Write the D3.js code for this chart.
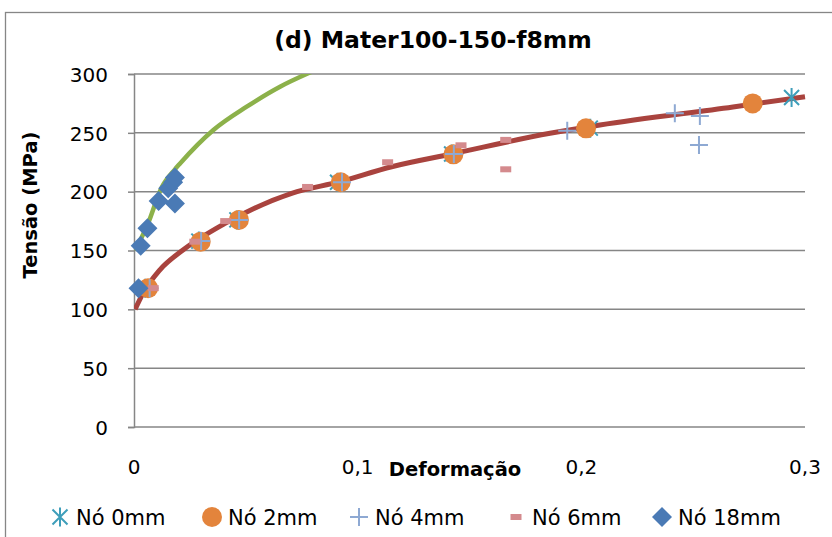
<!DOCTYPE html>
<html>
<head>
<meta charset="utf-8">
<script src="https://cdn.jsdelivr.net/npm/d3@7"></script>
<style>
  body { margin: 0; background: #fff; }
  text { font-family: "DejaVu Sans", sans-serif; fill: #000; }
</style>
</head>
<body>
<svg id="chart" width="832" height="537"></svg>
<script>
// Data
let node0X  = [0.005, 0.029, 0.046, 0.091, 0.142, 0.204, 0.294];
let node0Y  = [118, 158, 176, 208, 232, 254, 280];
let node2X  = [0.0063, 0.0298, 0.0469, 0.0924, 0.1428, 0.2021, 0.2766];
let node2Y  = [118, 157.5, 176, 208, 231.7, 253.8, 275];
let node4X  = [0.007, 0.030, 0.047, 0.093, 0.143, 0.1937, 0.2418, 0.253, 0.2526];
let node4Y  = [118, 158, 176, 208, 232, 251.8, 266.6, 264.3, 239.6];
let node6X  = [0.0086, 0.0272, 0.041, 0.0776, 0.1134, 0.1462, 0.1662, 0.1662];
let node6Y  = [118, 157.5, 175, 204, 225, 239.4, 244, 219];
let node18X = [0.002, 0.003, 0.006, 0.011, 0.0153, 0.0175, 0.0183, 0.0183];
let node18Y = [118, 154, 169, 192, 203, 208, 212, 190];

// trend lines
let redX   = [0.0005, 0.004, 0.0115, 0.0219, 0.0407, 0.0705, 0.0921, 0.1152, 0.142, 0.186, 0.2083, 0.2678, 0.3];
let redY   = [100, 113.6, 133.4, 150.4, 173, 198.6, 208.5, 221.2, 232, 249.6, 256.7, 272, 280.7];
let greenX = [0.0005, 0.0063, 0.0122, 0.0183, 0.0206, 0.0355, 0.0504, 0.0653, 0.0779, 0.082];
let greenY = [150, 173, 203, 219, 224, 252.4, 272.2, 289.2, 300.6, 304];

let xTicks = [0, 0.1, 0.2, 0.3];
let yTicks = [0, 50, 100, 150, 200, 250, 300];
let legendNames = ['Nó 0mm', 'Nó 2mm', 'Nó 4mm', 'Nó 6mm', 'Nó 18mm'];

let svg = d3.select('#chart');
let plotLeft = 134, plotRight = 805, plotTop = 74, plotBottom = 427;

let x = d3.scaleLinear().domain([0, 0.3]).range([plotLeft, plotRight]);
let y = d3.scaleLinear().domain([0, 300]).range([plotBottom, plotTop]);
let fmt = d => d === 0 ? '0' : String(d).replace('.', ',');

// outer border
svg.append('rect')
   .attr('x', 5.5).attr('y', 12.5)
   .attr('width', 860).attr('height', 560)
   .attr('fill', 'none').attr('stroke', '#868686').attr('stroke-width', 1.3);

// title
svg.append('text')
   .attr('x', 433).attr('y', 48)
   .attr('text-anchor', 'middle')
   .style('font-size', '23.5px').style('font-weight', 'bold')
   .text('(d) Mater100-150-f8mm');

// gridlines + y axis
let yAxis = d3.axisLeft(y).tickValues(yTicks).tickSize(6).tickPadding(20).tickFormat(d => d);
let gy = svg.append('g').attr('transform', `translate(${plotLeft},0)`).call(yAxis);
gy.select('.domain').attr('stroke', '#868686').attr('stroke-width', 1.5);
gy.selectAll('.tick line').attr('stroke', '#868686').attr('stroke-width', 1.5);
gy.selectAll('.tick text').style('font-size', '20px').style('font-family', '"DejaVu Sans", sans-serif').attr('dy', '0.36em');

svg.append('g').selectAll('line')
   .data(yTicks)
   .join('line')
   .attr('x1', plotLeft).attr('x2', plotRight)
   .attr('y1', d => y(d)).attr('y2', d => y(d))
   .attr('stroke', '#868686').attr('stroke-width', 1.5);

// x tick labels
svg.append('g').selectAll('text')
   .data(xTicks)
   .join('text')
   .attr('x', d => x(d)).attr('y', 474)
   .attr('text-anchor', 'middle')
   .style('font-size', '20px')
   .text(fmt);

// axis titles
svg.append('text')
   .attr('x', 455).attr('y', 476)
   .attr('text-anchor', 'middle')
   .style('font-size', '19.5px').style('font-weight', 'bold')
   .text('Deformação');

svg.append('text')
   .attr('transform', 'translate(37,205) rotate(-90)')
   .attr('text-anchor', 'middle')
   .style('font-size', '19.5px').style('font-weight', 'bold')
   .text('Tensão (MPa)');

// clip for trend lines
svg.append('clipPath').attr('id', 'plotClip')
   .append('rect').attr('x', plotLeft).attr('y', plotTop).attr('width', plotRight - plotLeft + 10).attr('height', plotBottom - plotTop);

let line = d3.line().x(d => x(d[0])).y(d => y(d[1])).curve(d3.curveMonotoneX);

svg.append('path')
   .datum(d3.zip(greenX, greenY))
   .attr('d', line)
   .attr('clip-path', 'url(#plotClip)')
   .attr('fill', 'none').attr('stroke', '#8CB14A').attr('stroke-width', 4.5);

svg.append('path')
   .datum(d3.zip(redX, redY))
   .attr('d', line)
   .attr('clip-path', 'url(#plotClip)')
   .attr('fill', 'none').attr('stroke', '#A9433E').attr('stroke-width', 5);

// marker drawers
let asteriskPath = 'M-7.5,-7.5L7.5,7.5M-7.5,7.5L7.5,-7.5M0,-9.5L0,9.5';
let plusPath = 'M-9,0L9,0M0,-9L0,9';

function drawAsterisk(g, px, py) {
  g.append('path').attr('transform', `translate(${px},${py})`).attr('d', asteriskPath)
   .attr('stroke', '#3E9EBA').attr('stroke-width', 2).attr('fill', 'none');
}
function drawCircle(g, px, py) {
  g.append('circle').attr('cx', px).attr('cy', py).attr('r', 10).attr('fill', '#E3843C');
}
function drawPlus(g, px, py) {
  g.append('path').attr('transform', `translate(${px},${py})`).attr('d', plusPath)
   .attr('stroke', '#8EA9D3').attr('stroke-width', 2).attr('fill', 'none');
}
function drawDash(g, px, py) {
  g.append('rect').attr('x', px - 5.5).attr('y', py - 3).attr('width', 11).attr('height', 6).attr('fill', '#D48A8D');
}
function drawDiamond(g, px, py) {
  g.append('path').attr('transform', `translate(${px},${py})`).attr('d', 'M0,-10L10,0L0,10L-10,0Z')
   .attr('fill', '#4A7AB5');
}

let series = [
  {xs: node0X, ys: node0Y, draw: drawAsterisk},
  {xs: node2X, ys: node2Y, draw: drawCircle},
  {xs: node4X, ys: node4Y, draw: drawPlus},
  {xs: node6X, ys: node6Y, draw: drawDash},
  {xs: node18X, ys: node18Y, draw: drawDiamond}
];

let marks = svg.append('g');
series.forEach(s => {
  s.xs.forEach((v, i) => s.draw(marks, x(v), y(s.ys[i])));
});

// legend
let legendMarkX = [60, 212, 359, 516, 662];
let legend = svg.append('g');
legendNames.forEach((name, i) => {
  series[i].draw(legend, legendMarkX[i], 517);
  legend.append('text')
        .attr('x', legendMarkX[i] + 16).attr('y', 524.5)
        .style('font-size', '21px')
        .text(name);
});
</script>
</body>
</html>
